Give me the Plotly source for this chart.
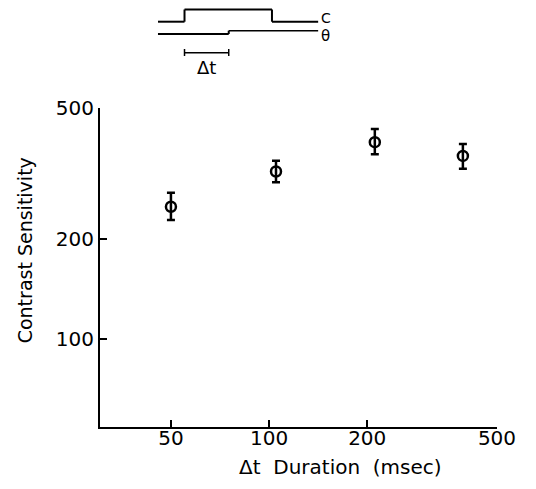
import plotly.graph_objects as go

# Data
durations = [50, 105, 211, 393]
sensitivity = [251, 321, 394, 358]
err_upper = [277, 346, 432, 389]
err_lower = [229, 298, 362, 327]
x_tick_vals = [50, 100, 200, 500]
y_tick_vals = [100, 200, 500]

err_plus = [u - s for u, s in zip(err_upper, sensitivity)]
err_minus = [s - l for s, l in zip(sensitivity, err_lower)]

# page body has an 8px margin; figure placed at (8, 8) in the window
OFF = 8
W, H = 520, 473
# plot area in window pixels
PX0, PX1, PY0, PY1 = 100, 504, 108, 427
L, T = PX0 - OFF, PY0 - OFF
R = W - (PX1 - OFF)
B = H - (PY1 - OFF)
PW, PH = PX1 - PX0, PY1 - PY0

def px(x):
    return (x - PX0) / PW

def py(y):
    return (PY1 - y) / PH

FONT = "DejaVu Sans, Liberation Sans, sans-serif"

fig = go.Figure()
fig.add_trace(go.Scatter(
    x=durations, y=sensitivity, mode="markers",
    marker=dict(symbol="circle-open", size=10, color="black", line=dict(width=2.5, color="black")),
    error_y=dict(type="data", symmetric=False, array=err_plus, arrayminus=err_minus,
                 color="black", thickness=2.5, width=4),
    showlegend=False,
))

shapes = []
def seg(x0, y0, x1, y1, w=2):
    shapes.append(dict(type="line", xref="paper", yref="paper",
                       x0=px(x0), y0=py(y0), x1=px(x1), y1=py(y1),
                       line=dict(color="black", width=w)))

# C trace
seg(159, 21.7, 186, 21.7)
seg(186, 21.7, 186, 9.5)
seg(186, 9.5, 275, 9.5)
seg(275, 9.5, 275, 21.7)
seg(275, 21.7, 322, 21.7)
# theta trace
seg(159, 34, 231, 34)
seg(231, 34, 231, 30.7)
seg(231, 30.7, 322, 30.7, 1.5)
# delta t bracket
seg(186, 52.7, 231, 52.7, 1.5)
seg(186, 49, 186, 56, 1.5)
seg(231, 49, 231, 56, 1.5)

annotations = [
    dict(text="C", xref="paper", yref="paper", x=px(323), y=py(18), xanchor="left", yanchor="middle",
         showarrow=False, font=dict(family=FONT, size=14, color="black")),
    dict(text="θ", xref="paper", yref="paper", x=px(323), y=py(36), xanchor="left", yanchor="middle",
         showarrow=False, font=dict(family=FONT, size=15, color="black")),
    dict(text="Δt", xref="paper", yref="paper", x=px(208), y=py(67), xanchor="center", yanchor="middle",
         showarrow=False, font=dict(family=FONT, size=18, color="black")),
    dict(text="Δt  Duration  (msec)", xref="paper", yref="paper", x=px(345), y=py(467),
         xanchor="center", yanchor="middle", showarrow=False,
         font=dict(family=FONT, size=20, color="black")),
    dict(text="Contrast Sensitivity", xref="paper", yref="paper", x=px(24), y=py(250),
         xanchor="center", yanchor="middle", textangle=-90, showarrow=False,
         font=dict(family=FONT, size=19, color="black")),
]

fig.update_layout(
    width=W, height=H,
    margin=dict(l=L, r=R, t=T, b=B, pad=0),
    paper_bgcolor="white", plot_bgcolor="white",
    font=dict(family=FONT, size=20, color="black"),
    shapes=shapes, annotations=annotations,
)
fig.update_xaxes(
    type="log", range=[1.4814, 2.699],
    tickvals=x_tick_vals, ticktext=[str(v) for v in x_tick_vals],
    ticks="inside", ticklen=7, tickwidth=1.5, tickcolor="black",
    showline=True, linecolor="black", linewidth=2,
    showgrid=False, zeroline=False,
    tickfont=dict(size=20), ticklabelstandoff=-8,
)
fig.update_yaxes(
    type="log", range=[1.7324, 2.699],
    tickvals=y_tick_vals, ticktext=[str(v) for v in y_tick_vals],
    ticks="inside", ticklen=7, tickwidth=1.5, tickcolor="black",
    showline=True, linecolor="black", linewidth=2,
    showgrid=False, zeroline=False,
    tickfont=dict(size=20),
)

fig.write_html("out.html")
